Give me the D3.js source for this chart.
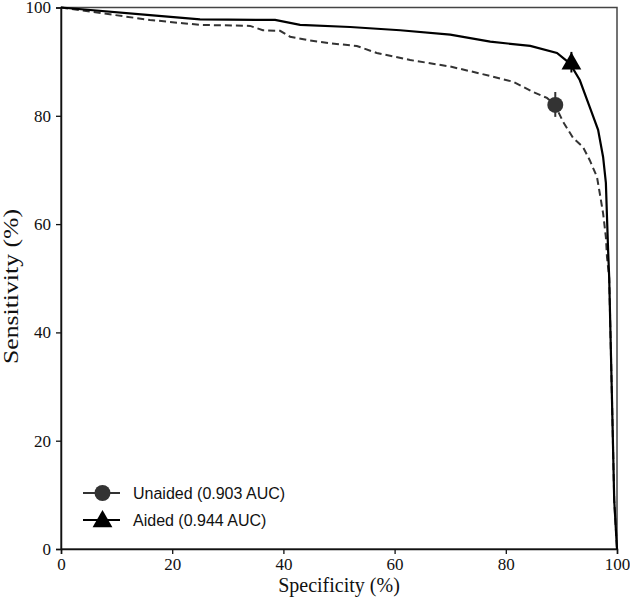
<!DOCTYPE html>
<html>
<head>
<meta charset="utf-8">
<script src="https://cdn.jsdelivr.net/npm/d3@7"></script>
<style>
  body { margin: 0; background: #fff; }
</style>
</head>
<body>
<div id="chart-area"></div>
<script>
// ROC curves: specificity (%) vs sensitivity (%)
var aidedSpec = [0, 16.0, 25.0, 38.5, 43.0, 52.0, 61.0, 70.0, 77.2, 84.4, 89.2, 91.5, 93.3, 95.1, 96.6, 97.5, 98.0, 98.2, 98.4, 98.6, 99.1, 99.5, 100];
var aidedSens = [100, 98.6, 97.8, 97.7, 96.8, 96.4, 95.8, 95.0, 93.7, 92.9, 91.6, 89.7, 86.6, 81.6, 77.4, 72.4, 67.6, 61.3, 55.2, 50.0, 27.5, 9.0, 0];

var unaidedSpec = [0, 16.0, 21.9, 25.0, 34.0, 36.3, 39.4, 41.2, 44.8, 48.4, 53.2, 56.8, 62.8, 70.0, 75.4, 81.3, 84.9, 87.4, 88.8, 90.3, 92.1, 93.9, 95.1, 96.4, 96.9, 97.5, 98.0, 98.2, 98.6, 99.1, 99.5, 100];
var unaidedSens = [100, 97.7, 97.1, 96.8, 96.6, 95.8, 95.7, 94.6, 93.9, 93.4, 92.9, 91.6, 90.3, 89.1, 87.8, 86.3, 84.4, 83.3, 82.1, 78.9, 75.9, 74.2, 71.8, 68.7, 65.7, 62.0, 57.6, 53.9, 50.0, 27.5, 9.0, 0];

// operating points with error bars (sensitivity low / high)
var pointNames = ['Unaided', 'Aided'];
var pointSpec = [88.9, 91.8];
var pointSens = [82.0, 89.9];
var pointLow = [79.8, 88.0];
var pointHigh = [84.4, 91.8];

var legendLabels = ['Unaided (0.903 AUC)', 'Aided (0.944 AUC)'];
var tickValues = [0, 20, 40, 60, 80, 100];

var margin = { top: 7.5, right: 13, bottom: 50, left: 61 },
	width = 630 - margin.left - margin.right,
	height = 599 - margin.top - margin.bottom;

var serif = 'Liberation Serif, Times New Roman, serif';

var svg = d3.select('#chart-area')
	.append('svg')
		.attr('width', 630)
		.attr('height', 599);

var g = svg.append('g')
	.attr('transform', 'translate(' + margin.left + ', ' + margin.top + ')');

var xScale = d3.scaleLinear().domain([0, 100]).range([0, width]);
var yScale = d3.scaleLinear().domain([0, 100]).range([height, 0]);

// frame (top / right)
g.append('rect')
	.attr('x', 0).attr('y', 0)
	.attr('width', width).attr('height', height)
	.attr('fill', 'none')
	.attr('stroke', '#444')
	.attr('stroke-width', 1.5);

var xAxis = g.append('g')
	.attr('transform', 'translate(0, ' + height + ')')
	.call(d3.axisBottom(xScale).tickValues(tickValues).tickSize(5).tickPadding(4));

var yAxis = g.append('g')
	.call(d3.axisLeft(yScale).tickValues(tickValues).tickSize(5).tickPadding(5));

[xAxis, yAxis].forEach(ax => {
	ax.select('.domain').attr('stroke', '#111').attr('stroke-width', 1.5);
	ax.selectAll('.tick line').attr('stroke', '#111').attr('stroke-width', 1.3);
	ax.selectAll('.tick text')
		.attr('fill', '#111')
		.style('font-family', serif)
		.style('font-size', '17px');
});

g.append('text')
	.attr('x', width / 2)
	.attr('y', height + 43)
	.attr('text-anchor', 'middle')
	.style('font-family', serif)
	.style('font-size', '20px')
	.attr('fill', '#111')
	.text('Specificity (%)');

g.append('text')
	.attr('x', - 279)
	.attr('y', - 43)
	.attr('transform', 'rotate(-90)')
	.attr('text-anchor', 'middle')
	.style('font-family', serif)
	.style('font-size', '20px')
	.attr('textLength', 155)
	.attr('lengthAdjust', 'spacingAndGlyphs')
	.attr('fill', '#111')
	.text('Sensitivity (%)');

var line = d3.line()
	.x(d => xScale(d[0]))
	.y(d => yScale(d[1]));

g.append('path')
	.datum(d3.zip(unaidedSpec, unaidedSens))
	.attr('d', line)
	.attr('fill', 'none')
	.attr('stroke', '#333')
	.attr('stroke-width', 2)
	.attr('stroke-dasharray', '7,4');

g.append('path')
	.datum(d3.zip(aidedSpec, aidedSens))
	.attr('d', line)
	.attr('fill', 'none')
	.attr('stroke', '#000')
	.attr('stroke-width', 2.2);

var circleSym = d3.symbol().type(d3.symbolCircle).size(200);
var triSym = d3.symbol().type(d3.symbolTriangle).size(170);
var markerColors = ['#333', '#000'];
var markerSyms = [circleSym, triSym];

pointNames.forEach((name, i) => {
	g.append('line')
		.attr('x1', xScale(pointSpec[i])).attr('x2', xScale(pointSpec[i]))
		.attr('y1', yScale(pointLow[i])).attr('y2', yScale(pointHigh[i]))
		.attr('stroke', markerColors[i])
		.attr('stroke-width', 2);
	g.append('path')
		.attr('d', markerSyms[i]())
		.attr('transform', 'translate(' + xScale(pointSpec[i]) + ',' + (yScale(pointSens[i]) + (i === 1 ? 1.5 : 0)) + ')')
		.attr('fill', markerColors[i]);
});

// legend
var legend = g.append('g')
	.attr('transform', 'translate(22, ' + (height - 56) + ')');

legendLabels.forEach((label, i) => {
	var row = legend.append('g').attr('transform', 'translate(0, ' + (i * 27) + ')');
	row.append('line')
		.attr('x1', 0).attr('x2', 37)
		.attr('y1', 0).attr('y2', 0)
		.attr('stroke', markerColors[i])
		.attr('stroke-width', 2.2);
	row.append('path')
		.attr('d', markerSyms[i]())
		.attr('transform', 'translate(19.5,' + (i === 1 ? 1.5 : 0) + ')')
		.attr('fill', markerColors[i]);
	row.append('text')
		.attr('x', 50)
		.attr('y', 6)
		.style('font-family', 'Liberation Sans, Arial, sans-serif')
		.style('font-size', '16px')
		.attr('fill', '#111')
		.text(label);
});
</script>
</body>
</html>
